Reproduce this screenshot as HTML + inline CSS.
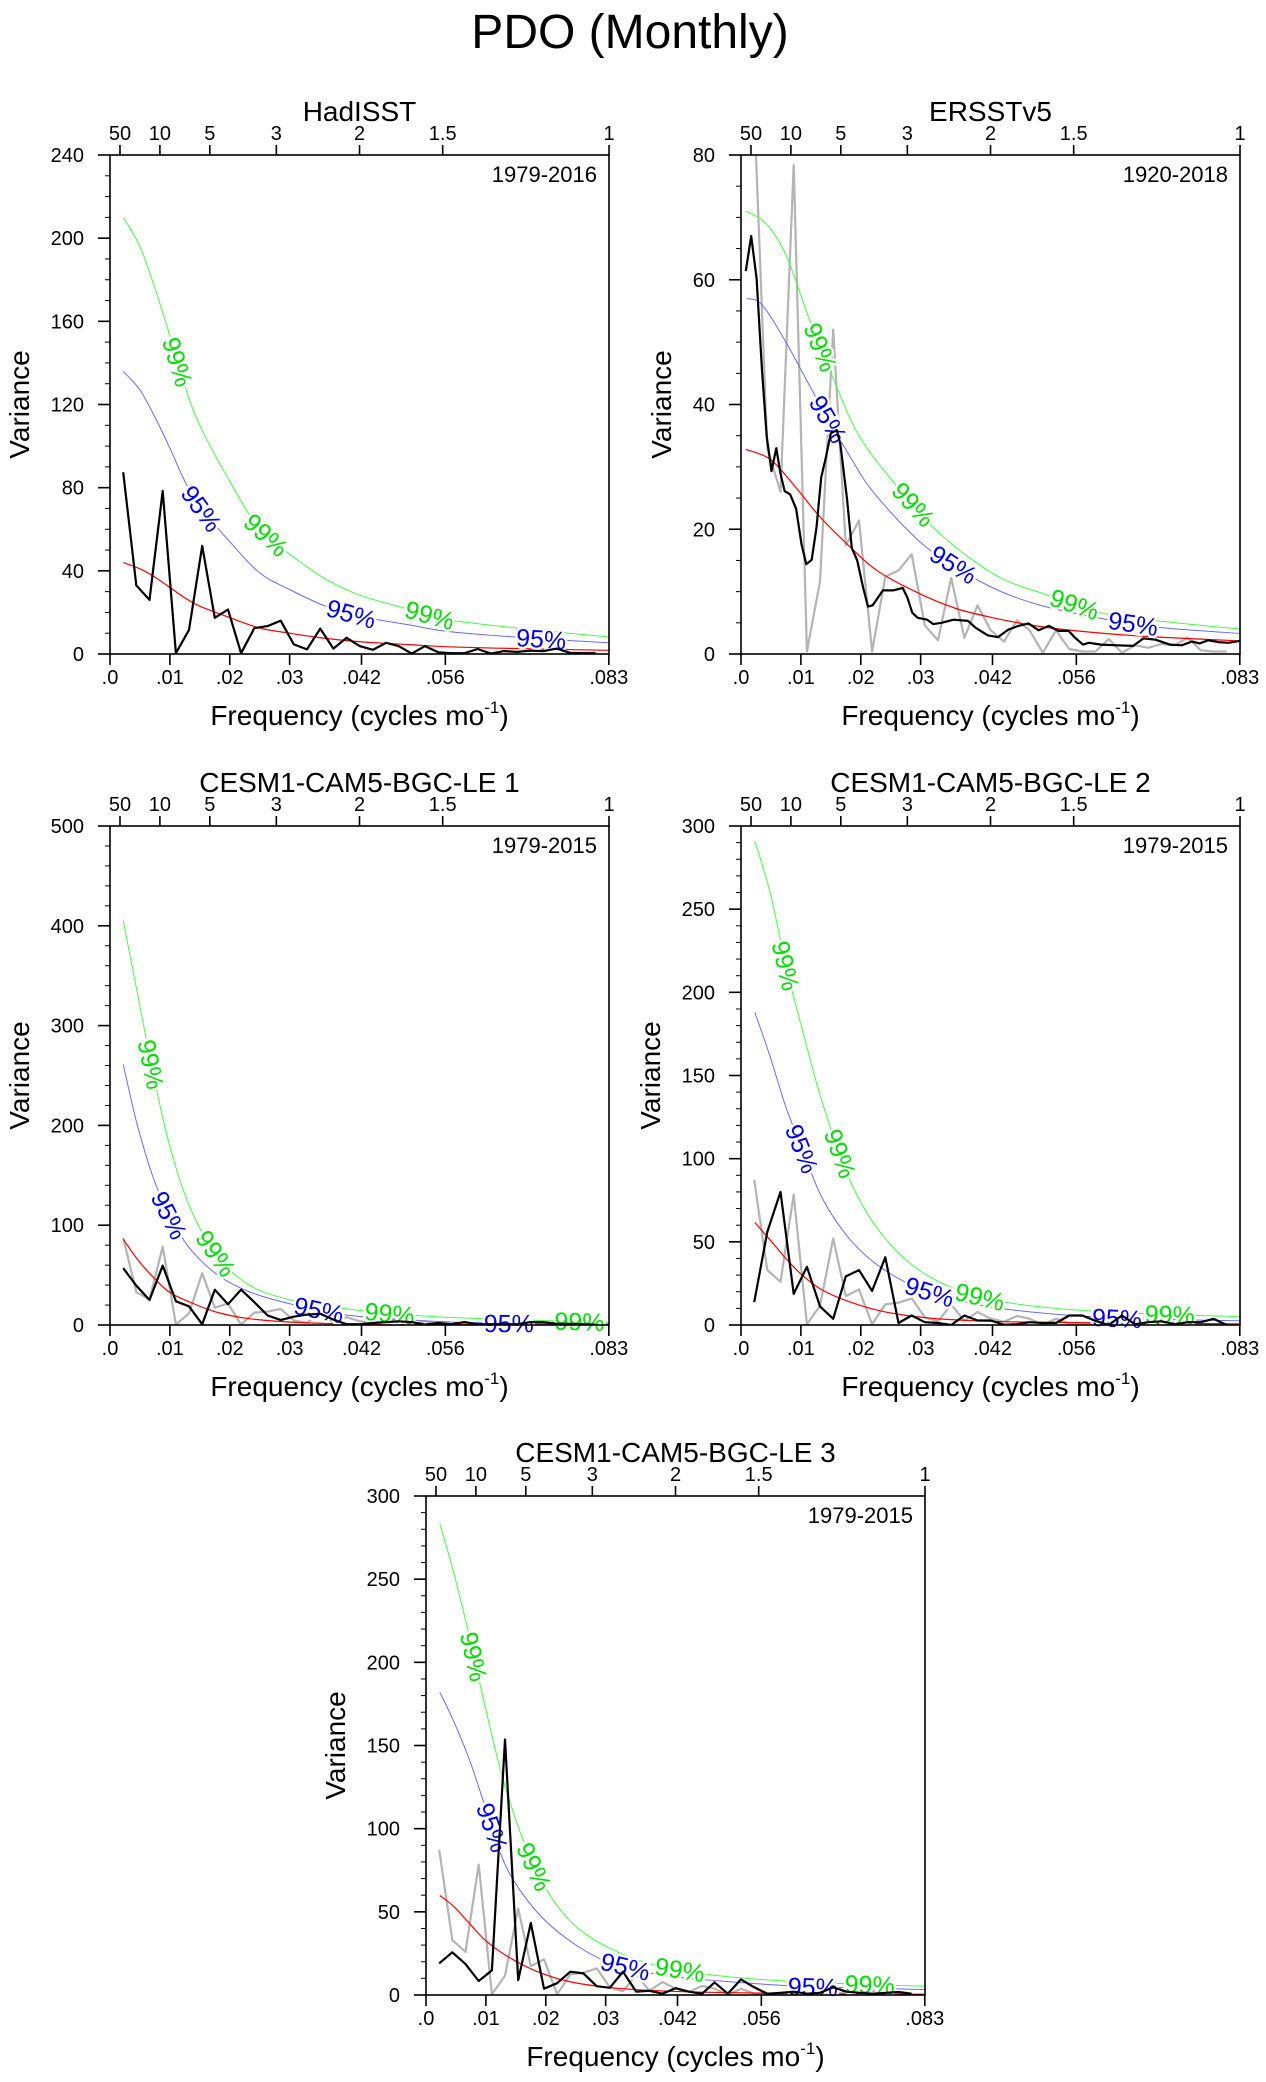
<!DOCTYPE html>
<html><head><meta charset="utf-8">
<style>
html,body{margin:0;padding:0;background:#fff;}
svg{display:block;font-family:"Liberation Sans",Arial,sans-serif;}
</style></head>
<body>
<svg id="fig" width="1266" height="2082" viewBox="0 0 1266 2082" xmlns="http://www.w3.org/2000/svg">
<rect x="0" y="0" width="1266" height="2082" fill="#fff"/>
<text x="630" y="48" font-size="48" text-anchor="middle">PDO (Monthly)</text>
</svg>
<script>
// ---------- shared frequency grid (cycles/month) ----------
const freqGrid = [0.0022,0.0044,0.0066,0.0088,0.0110,0.0132,0.0154,0.0175,0.0197,0.0219,0.0241,0.0263,0.0285,0.0307,0.0329,0.0351,0.0373,0.0395,0.0417,0.0439,0.0461,0.0482,0.0504,0.0526,0.0548,0.0570,0.0592,0.0614,0.0636,0.0658,0.0680,0.0702,0.0724,0.0746,0.0768,0.0789,0.0811];
const bottomTickFreqs = [0,0.01,0.02,0.03,0.042,0.056,0.0833];
const bottomTickLabels = [".0",".01",".02",".03",".042",".056",".083"];
const topTickPeriods = [50,10,5,3,2,1.5,1];
const topTickLabels = ["50","10","5","3","2","1.5","1"];

// ---------- HadISST ----------
const hadSpec = [87.4,33,26,78.4,0.4,11.6,52,17.4,21.4,0.4,12.4,13.4,16,4.6,2.2,12.2,2.6,7.8,3.8,2,5.4,3.8,0.2,3.8,0.8,0.4,0.4,2.4,0.2,1.4,1,1.6,1.4,2.6,0.6,0.4,0.4];
const hadCurveF = [0.0022,0.005,0.0075,0.01,0.0125,0.015,0.02,0.025,0.03,0.036,0.042,0.05,0.056,0.065,0.075,0.0833];
const hadRed = [44,41,37,32,27,23,17.5,12.5,10,7.5,5.8,4.5,3.5,2.8,2.2,1.8];
const had95 = [136,127,114,99,83,71,54,39,31,23,18,14,11,8.7,6.8,5.4];
const had99 = [210,196,176,153,129,110,83,60,48,36,28,21.5,16.7,13.4,10.5,8.2];
const hadLab99F = [0.0113,0.0261,0.0534];
const hadLab95F = [0.0153,0.0403,0.072];

// ---------- ERSSTv5 ----------
const ersF = [0.0008,0.0017,0.0026,0.0035,0.0043,0.0051,0.0059,0.0066,0.0073,0.0082,0.0092,0.0101,0.0109,0.0118,0.0126,0.0134,0.0142,0.0150,0.0160,0.0166,0.0177,0.0185,0.0194,0.0204,0.0212,0.0220,0.0237,0.0254,0.0270,0.0278,0.0286,0.0295,0.0311,0.0321,0.0335,0.0355,0.0379,0.0392,0.0412,0.0429,0.0446,0.0463,0.0480,0.0497,0.0514,0.0530,0.0547,0.0557,0.0571,0.0581,0.0601,0.0628,0.0655,0.0672,0.0692,0.0716,0.0736,0.0753,0.0766,0.0780,0.0797,0.0814,0.0833];
const ersSpec = [61.4,67,60.2,45.5,34.9,29.3,33,28.9,26.1,25.6,23.3,17.6,14.4,15.1,20.3,28.3,31.6,35.4,35.9,33.6,24.9,17,15,10.6,7.6,7.8,10.2,10.2,10.6,9,6.6,5.8,5.5,4.8,5,5.5,5.3,4.2,3,2.7,3.9,4.5,4.9,3.8,4.5,3.7,3.7,2.7,1.5,1.8,1.5,1.4,1.3,2.5,2.3,1.5,1.4,2,1.7,2.2,1.9,1.8,2.1];
const ersRedF = [0.0008,0.0049,0.0089,0.0129,0.0170,0.0224,0.0291,0.0359,0.0426,0.0493,0.0561,0.0662,0.0833];
const ersRed = [32.8,31.2,27,22.3,18.3,13.6,10,7.3,5.7,4.5,3.7,2.9,2.1];
const ers95F = [0.001,0.0035,0.0075,0.0126,0.018,0.0224,0.0311,0.0406,0.0493,0.0601,0.0696,0.0833];
const ers95 = [57,56,50,41,32,25.6,17,11.3,8,5.7,4.3,3.3];
const ers99F = [0.0008,0.0042,0.0075,0.0113,0.0156,0.0197,0.0257,0.0332,0.0426,0.0507,0.0601,0.0696,0.0833];
const ers99 = [71,69,64,54,43.7,35,27.3,19.3,12.6,9.6,6.6,5.3,4];
const ersLab99F = [0.0133,0.0288,0.0557];
const ersLab95F = [0.0146,0.0355,0.0655];

// ---------- CESM1-CAM5-BGC-LE 1 ----------
const le1Spec = [57,39.5,25,59.5,23.7,18.7,0.8,35.4,20.8,35.4,22.9,9.6,5,8.3,10.4,11.2,5.4,0.8,0.8,2,2.9,3.7,2.9,0.4,2,0.8,2.9,0.8,0.8,0.8,0.8,2.9,2.9,1.2,1.2,0.8,0.4];
const le1RedF = [0.0022,0.0045,0.0072,0.0099,0.0133,0.018,0.0234,0.0302,0.0389,0.049,0.0833];
const le1Red = [86,66.5,48,33,23,12.5,6.2,2.9,1.2,0.4,0.2];
const le1CurveF = [0.0022,0.0045,0.0072,0.0099,0.0133,0.018,0.0234,0.0302,0.0389,0.049,0.0625,0.0833];
const le195 = [261,202,148,110,77,50,33,21,10.4,5.4,2,1.2];
const le199 = [405,335,252,181,118.5,68.6,39.5,25,16.6,10.4,6.2,2.9];
const le1Lab99F = [0.0069,0.0177,0.0467,0.0784];
const le1Lab95F = [0.0099,0.0349,0.0666];

// ---------- CESM1-CAM5-BGC-LE 2 ----------
const le2Spec = [13.7,56,80,18.7,35,11.2,3.7,29.2,33,20.5,40.7,1.2,5.7,1.7,1.2,0,5.7,2.7,2.7,0.2,0.5,1.7,1.2,1.2,5.7,5.7,2.5,0,5.7,0.5,1.7,2.2,0.5,1.7,1.7,3.7,0];
const le2CurveF = [0.0023,0.0049,0.0075,0.0102,0.0136,0.0183,0.0237,0.0305,0.0392,0.0493,0.0628,0.0833];
const le2Red = [61.6,51,40,30,21,13.7,8.2,4.5,2.5,1.7,1.2,0.7];
const le295 = [188,161,131,106,76,51,33.7,21,12.5,7.5,4.2,2.5];
const le299 = [291,259.5,216,178,133.5,86,53.7,31.2,17.5,11.2,7.5,5];
const le2Lab99F = [0.0075,0.0166,0.0399,0.0716];
const le2Lab95F = [0.0102,0.0315,0.0628];

// ---------- CESM1-CAM5-BGC-LE 3 ----------
const le3Spec = [19,25.7,18.6,8.4,14.8,153.6,8.9,43.3,3.8,7.1,14,13,5.3,4.3,14,2,2.5,0.8,4.1,2,0.8,7.6,0.8,9.4,4.6,0.8,1.3,2,0.8,1.3,4.6,2,1.3,0.8,1.3,1.8,0.8];
const le3CurveF = [0.0023,0.0047,0.0073,0.0100,0.0134,0.0181,0.0235,0.0303,0.0390,0.0491,0.0626,0.0833];
const le3Red = [59.8,53,42.8,32.6,23.7,14.8,8.4,4.6,2.5,1.5,0.8,0.5];
const le395 = [182,164,141,112,77,51.7,33.9,19.9,12.2,8.4,5.3,3.3];
const le399 = [283.4,252.9,214.7,171.4,123,77.2,46.6,28.8,17.3,11.5,7.9,5.3];
const le3Lab99F = [0.008,0.0181,0.0424,0.0741];
const le3Lab95F = [0.0111,0.0333,0.0646];

// ---------- y axes ----------
const hadYTicks = [0,40,80,120,160,200,240];
const ersYTicks = [0,20,40,60,80];
const le1YTicks = [0,100,200,300,400,500];
const le2YTicks = [0,50,100,150,200,250,300];
const le3YTicks = [0,50,100,150,200,250,300];

const FMAX = 0.08333;
const SVGNS = "http://www.w3.org/2000/svg";
const svg = document.getElementById('fig');

function mk(tag, attrs, parent){
  const e = document.createElementNS(SVGNS, tag);
  for (const k in attrs) e.setAttribute(k, attrs[k]);
  (parent||svg).appendChild(e);
  return e;
}
function interp(fs, vs, f){
  if (f <= fs[0]) return vs[0];
  for (let i=1;i<fs.length;i++){
    if (f <= fs[i]){ const t=(f-fs[i-1])/(fs[i]-fs[i-1]); return vs[i-1]+t*(vs[i]-vs[i-1]); }
  }
  return vs[vs.length-1];
}

const panels = [
 {id:'hadisst', title:'HadISST', years:'1979-2016', x0:110, y0:155, ymax:240, ticks:hadYTicks, minor:10, ylx:19,
  black:[freqGrid,hadSpec], gray:null, red:[hadCurveF,hadRed], c95:[hadCurveF,had95], c99:[hadCurveF,had99], l95:hadLab95F, l99:hadLab99F},
 {id:'ersstv5', title:'ERSSTv5', years:'1920-2018', x0:741, y0:155, ymax:80, ticks:ersYTicks, minor:5, ylx:661,
  black:[ersF,ersSpec], gray:[freqGrid,hadSpec], red:[ersRedF,ersRed], c95:[ers95F,ers95], c99:[ers99F,ers99], l95:ersLab95F, l99:ersLab99F},
 {id:'cesm-le-1', title:'CESM1-CAM5-BGC-LE 1', years:'1979-2015', x0:110, y0:826, ymax:500, ticks:le1YTicks, minor:20, ylx:19,
  black:[freqGrid,le1Spec], gray:[freqGrid,hadSpec], red:[le1RedF,le1Red], c95:[le1CurveF,le195], c99:[le1CurveF,le199], l95:le1Lab95F, l99:le1Lab99F},
 {id:'cesm-le-2', title:'CESM1-CAM5-BGC-LE 2', years:'1979-2015', x0:741, y0:826, ymax:300, ticks:le2YTicks, minor:10, ylx:650,
  black:[freqGrid,le2Spec], gray:[freqGrid,hadSpec], red:[le2CurveF,le2Red], c95:[le2CurveF,le295], c99:[le2CurveF,le299], l95:le2Lab95F, l99:le2Lab99F},
 {id:'cesm-le-3', title:'CESM1-CAM5-BGC-LE 3', years:'1979-2015', x0:426, y0:1496, ymax:300, ticks:le3YTicks, minor:10, ylx:335,
  black:[freqGrid,le3Spec], gray:[freqGrid,hadSpec], red:[le3CurveF,le3Red], c95:[le3CurveF,le395], c99:[le3CurveF,le399], l95:le3Lab95F, l99:le3Lab99F}
];

const W = 499, H = 499;

panels.forEach((p, idx) => {
  const g = mk('g', {});
  
  
  const xs = f => p.x0 + f / FMAX * W;
  const ys = v => p.y0 + H - v / p.ymax * H;
  const x1 = p.x0 + W, yb = p.y0 + H;

  const cp = mk('clipPath', {id:'clip'+idx}, g);
  mk('rect', {x:p.x0, y:p.y0, width:W, height:H}, cp);

  const t = mk('text', {x:p.x0 + W/2, y:p.y0 - 34, 'font-size':28, 'text-anchor':'middle'}, g);
  
  
  t.textContent = p.title;
  const yr = mk('text', {x:x1 - 12, y:p.y0 + 27, 'font-size':22, 'text-anchor':'end'}, g);
  
  
  yr.textContent = p.years;

  const lineFn = (fs, vs) => fs.map((f,i)=> (i?'L':'M') + xs(f).toFixed(1) + ' ' + ys(vs[i]).toFixed(1)).join(' ');
  const smoothFn = (fs, vs) => {
    const pts = fs.map((f,i)=>[xs(f), ys(vs[i])]);
    let d = 'M' + pts[0][0].toFixed(1) + ' ' + pts[0][1].toFixed(1);
    for (let i=0;i<pts.length-1;i++){
      const p0 = pts[Math.max(0,i-1)], p1 = pts[i], p2 = pts[i+1], p3 = pts[Math.min(pts.length-1,i+2)];
      const c1x = p1[0] + (p2[0]-p0[0])/6, c1y = p1[1] + (p2[1]-p0[1])/6;
      const c2x = p2[0] - (p3[0]-p1[0])/6, c2y = p2[1] - (p3[1]-p1[1])/6;
      d += ' C' + c1x.toFixed(1)+' '+c1y.toFixed(1)+' '+c2x.toFixed(1)+' '+c2y.toFixed(1)+' '+p2[0].toFixed(1)+' '+p2[1].toFixed(1);
    }
    return d;
  };
  const sg = mk('g', {'clip-path':'url(#clip'+idx+')', fill:'none'}, g);
  if (p.gray){
    const e = mk('path', {d:lineFn(p.gray[0], p.gray[1]), stroke:'#b4b4b4', 'stroke-width':2.2, 'stroke-linejoin':'round'}, sg);
    
    
  }
  const r = mk('path', {d:smoothFn(p.red[0], p.red[1]), stroke:'#ff0000', 'stroke-width':1.2}, sg);
  
  
  const b = mk('path', {d:smoothFn(p.c95[0], p.c95[1]), stroke:'#6a6aff', 'stroke-width':1}, sg);
  
  
  const gr = mk('path', {d:smoothFn(p.c99[0], p.c99[1]), stroke:'#44ff44', 'stroke-width':1}, sg);
  
  

  const addLabel = (f, curve, txt, col) => {
    const cx = xs(f), cy = ys(interp(curve[0], curve[1], f));
    const xa = xs(f-0.0015), ya = ys(interp(curve[0], curve[1], f-0.0015));
    const xb = xs(f+0.0015), yb2 = ys(interp(curve[0], curve[1], f+0.0015));
    const ang = Math.atan2(yb2-ya, xb-xa) * 180 / Math.PI;
    const e = mk('text', {x:cx, y:cy+9, 'font-size':25, fill:col, 'text-anchor':'middle',
      transform:'rotate('+ang.toFixed(1)+' '+cx.toFixed(1)+' '+cy.toFixed(1)+')',
      stroke:'#fff', 'stroke-width':5, 'paint-order':'stroke'}, g);
    
    
    e.textContent = txt;
  };
  p.l99.forEach(f => addLabel(f, p.c99, '99%', '#00dd00'));
  p.l95.forEach(f => addLabel(f, p.c95, '95%', '#0000ee'));

  const bk = mk('path', {d:lineFn(p.black[0], p.black[1]), stroke:'#000', 'stroke-width':2.2, fill:'none', 'stroke-linejoin':'round', 'clip-path':'url(#clip'+idx+')'}, g);
  
  

  const fr = mk('rect', {x:p.x0, y:p.y0, width:W, height:H, fill:'none', stroke:'#000', 'stroke-width':1.6}, g);
  
  

  for (let v=0; v<=p.ymax+1e-9; v+=p.minor){
    mk('line', {x1:p.x0-5, x2:p.x0, y1:ys(v), y2:ys(v), stroke:'#000', 'stroke-width':1}, g);
  }
  p.ticks.forEach(v => {
    mk('line', {x1:p.x0-12, x2:p.x0, y1:ys(v), y2:ys(v), stroke:'#000', 'stroke-width':1.6}, g);
    const e = mk('text', {x:p.x0-26, y:ys(v)+7, 'font-size':20, 'text-anchor':'end'}, g);
    
    
    e.textContent = String(v);
  });
  bottomTickFreqs.forEach((f,i) => {
    mk('line', {x1:xs(f), x2:xs(f), y1:yb, y2:yb+11, stroke:'#000', 'stroke-width':1.6}, g);
    const e = mk('text', {x:xs(f), y:yb+30, 'font-size':20, 'text-anchor':'middle'}, g);
    
    
    e.textContent = bottomTickLabels[i];
  });
  topTickPeriods.forEach((per,i) => {
    const f = 1/(12*per);
    mk('line', {x1:xs(f), x2:xs(f), y1:p.y0, y2:p.y0-10, stroke:'#000', 'stroke-width':1.6}, g);
    const e = mk('text', {x:xs(f), y:p.y0-15, 'font-size':20, 'text-anchor':'middle'}, g);
    
    
    e.textContent = topTickLabels[i];
  });
  const yl = mk('text', {x:p.ylx, y:p.y0+H/2, 'font-size':28, 'text-anchor':'middle', transform:'rotate(-90 '+p.ylx+' '+(p.y0+H/2)+')', dy:10}, g);
  
  
  yl.textContent = 'Variance';
  const xl = mk('text', {x:p.x0+W/2, y:yb+71, 'font-size':28, 'text-anchor':'middle'}, g);
  
  
  xl.appendChild(document.createTextNode('Frequency (cycles mo'));
  const sup = mk('tspan', {'font-size':17, dy:-12}, xl);
  sup.textContent = '-1';
  const cl = mk('tspan', {dy:12}, xl);
  cl.textContent = ')';
});
</script>
</body></html>
